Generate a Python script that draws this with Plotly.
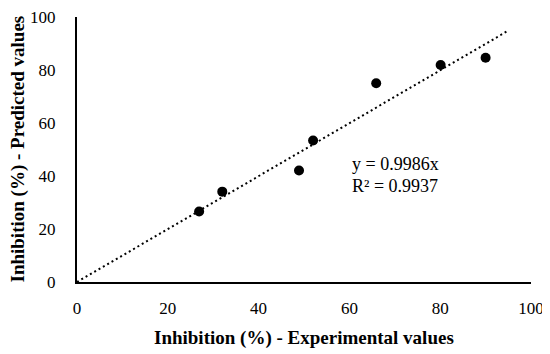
import plotly.graph_objects as go

experimental = [26.9, 32.0, 48.9, 52.0, 65.9, 80.1, 90.0]
predicted = [26.6, 34.1, 42.1, 53.4, 75.0, 81.9, 84.6]
slope = 0.9986
trend_x = [0, 95]
trend_y = [slope * v for v in trend_x]
tick_vals = [0, 20, 40, 60, 80, 100]

FONT = "Liberation Serif, Times New Roman, serif"

fig = go.Figure()
fig.add_trace(go.Scatter(x=trend_x, y=trend_y, mode="lines",
                         line=dict(color="black", width=2, dash="2px,3px"),
                         showlegend=False, hoverinfo="skip", cliponaxis=False))
fig.add_trace(go.Scatter(x=experimental, y=predicted, mode="markers",
                         marker=dict(color="black", size=10),
                         showlegend=False))

fig.add_annotation(x=60.1, y=44.6, xref="x", yref="y", xanchor="left",
                   text="y = 0.9986x", showarrow=False,
                   font=dict(family=FONT, size=18, color="black"))
fig.add_annotation(x=60.1, y=36.3, xref="x", yref="y", xanchor="left",
                   text="R² = 0.9937", showarrow=False,
                   font=dict(family=FONT, size=18, color="black"))

fig.add_annotation(x=0.5, y=0, xref="paper", yref="paper", yshift=-56,
                   xanchor="center", yanchor="middle", showarrow=False,
                   text="<b>Inhibition (%) - Experimental values</b>",
                   font=dict(family=FONT, size=19, color="black"))
fig.add_annotation(x=0, y=0.5, xref="paper", yref="paper", xshift=-60,
                   xanchor="center", yanchor="middle", showarrow=False, textangle=-90,
                   text="<b>Inhibition (%) - Predicted values</b>",
                   font=dict(family=FONT, size=19, color="black"))

# page body has an 8px default margin, so the figure is shrunk and offset
fig.update_layout(
    width=542, height=346,
    margin=dict(l=69, r=19, t=9, b=72),
    paper_bgcolor="white", plot_bgcolor="white",
    font=dict(family=FONT, color="black"),
    xaxis=dict(range=[0, 100], tickvals=tick_vals, showgrid=False, zeroline=False,
               showline=True, linecolor="black", linewidth=2, ticks="",
               automargin=False, ticklabeloverflow="allow",
               tickfont=dict(family=FONT, size=17, color="black"),
               ticklabelstandoff=10),
    yaxis=dict(range=[0, 100], tickvals=tick_vals, showgrid=False, zeroline=False,
               showline=True, linecolor="black", linewidth=2, ticks="",
               automargin=False, ticklabeloverflow="allow",
               tickfont=dict(family=FONT, size=17, color="black"),
               ticklabelstandoff=16),
)

fig.write_html("out.html")
